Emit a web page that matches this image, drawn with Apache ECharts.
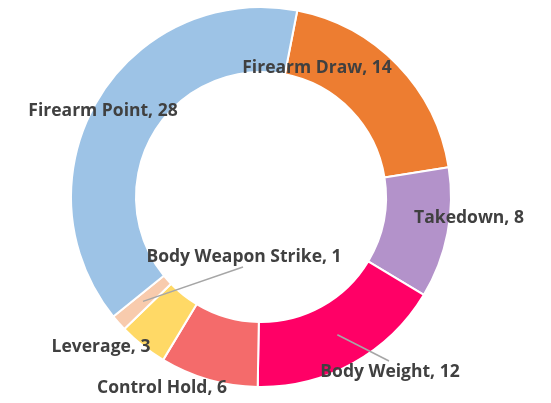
<!DOCTYPE html>
<html>
<head>
<meta charset="utf-8">
<script src="https://cdn.jsdelivr.net/npm/echarts@6/dist/echarts.min.js"></script>
<style>
  html, body { margin: 0; padding: 0; background: #fff; }
  #chart { width: 551px; height: 403px; }
</style>
</head>
<body>
<div id="chart"></div>
<script>
// slice order, clockwise from the top
const categories = ['Firearm Draw', 'Takedown', 'Body Weight', 'Control Hold', 'Leverage', 'Body Weapon Strike', 'Firearm Point'];
const values = [14, 8, 12, 6, 3, 1, 28];
const colors = ['#ED7D31', '#B392CA', '#FF0066', '#F46B6B', '#FFD966', '#F8CBAD', '#9DC3E6'];

// where each data label sits (Excel-style manual placement), lineTo = leader line end
const labelSpots = [
    { x: 317, y: 68 },
    { x: 469, y: 218 },
    { x: 390, y: 372, lineTo: [389, 361] },
    { x: 162, y: 388 },
    { x: 101, y: 347 },
    { x: 244, y: 257, lineTo: [243, 267] },
    { x: 103, y: 111 }
];

const center = [261, 197];
const radius = [125, 190];
const firstAngle = 11; // degrees clockwise from 12 o'clock

let chart = echarts.init(document.getElementById('chart'));

// Excel draws leader lines from the middle of the slice; compute that point
const total = values.reduce(function (s, v) { return s + v; }, 0);
let leaderLines = [];
let acc = 0;
values.forEach(function (v, i) {
    const mid = (firstAngle + (acc + v / 2) / total * 360) * Math.PI / 180;
    acc += v;
    const spot = labelSpots[i];
    if (!spot.lineTo) return;
    const r = (radius[0] + radius[1]) / 2;
    const from = [center[0] + r * Math.sin(mid), center[1] - r * Math.cos(mid)];
    leaderLines.push({
        type: 'polyline',
        silent: true,
        z: 10,
        shape: { points: [from, spot.lineTo] },
        style: { stroke: '#A6A6A6', lineWidth: 1.5, fill: null }
    });
});

chart.setOption({
    animation: false,
    graphic: leaderLines,
    series: [{
        type: 'pie',
        center: center,
        radius: radius,
        startAngle: 90 - firstAngle,
        clockwise: true,
        avoidLabelOverlap: false,
        itemStyle: {
            borderColor: '#fff',
            borderWidth: 2
        },
        label: {
            show: true,
            position: 'outside',
            formatter: '{b}, {c}',
            color: '#404040',
            fontFamily: 'Open Sans',
            fontWeight: 'bold',
            fontSize: 17.5
        },
        labelLine: { show: false },
        labelLayout: function (params) {
            const spot = labelSpots[params.dataIndex];
            return {
                x: spot.x,
                y: spot.y,
                align: 'center',
                verticalAlign: 'middle'
            };
        },
        data: categories.map(function (name, i) {
            return {
                name: name,
                value: values[i],
                itemStyle: { color: colors[i] }
            };
        })
    }]
});
</script>
</body>
</html>
